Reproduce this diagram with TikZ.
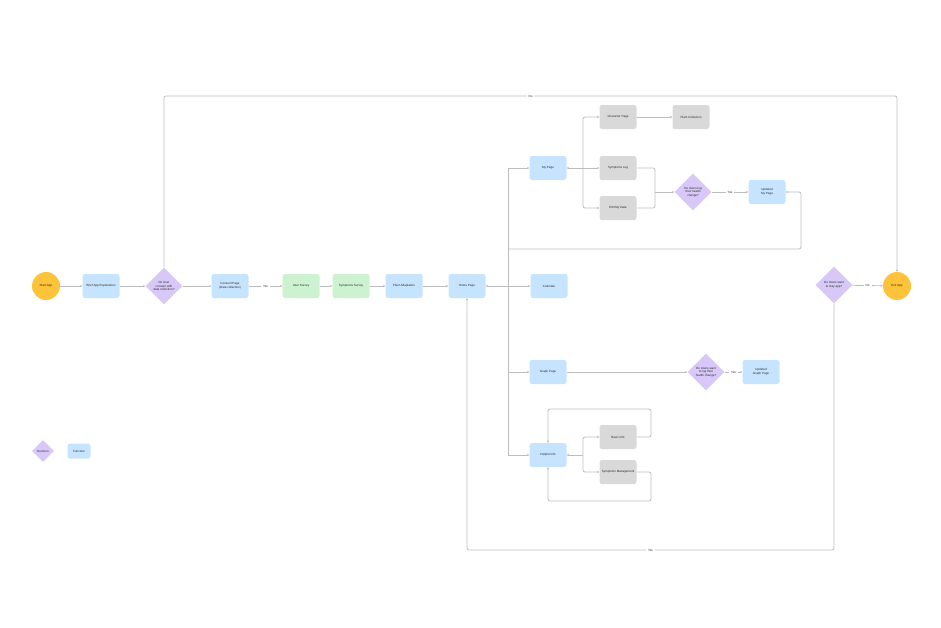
\documentclass[tikz,border=0pt]{standalone}
\usepackage{fontspec}
\setmainfont{Liberation Sans}
\usetikzlibrary{shapes.geometric,arrows.meta}
\definecolor{cyel}{HTML}{FDC33A}
\definecolor{cblue}{HTML}{C7E4FF}
\definecolor{cgreen}{HTML}{CCF2D0}
\definecolor{cgrey}{HTML}{D9D9D9}
\definecolor{cpurp}{HTML}{D8C8F8}
\definecolor{cline}{HTML}{BDBDBD}
\begin{document}
\begin{tikzpicture}[x=1pt,y=-1pt,
  base/.style={font=\fontsize{3}{3.6}\selectfont, align=center, inner sep=0pt, text=black!85},
  fn/.style={base, rectangle, rounded corners=2.5pt, fill=cblue, minimum width=37pt, minimum height=24pt},
  fng/.style={fn, fill=cgreen},
  fgr/.style={fn, fill=cgrey},
  circ/.style={base, circle, fill=cyel, minimum size=28pt},
  dec/.style={base, diamond, fill=cpurp, minimum width=37pt, minimum height=37pt, aspect=1},
  ar/.style={draw=cline, line width=0.8pt, -{Stealth[length=2.2pt,width=2.2pt]}},
  ln/.style={draw=cline, line width=0.8pt},
  rc/.style={rounded corners=2pt},
  lbl/.style={base, fill=white, inner xsep=2pt, inner ysep=1pt}]
\useasboundingbox (0,0) rectangle (941,627);

% main row
\node[circ] (start) at (46,286) {Start App};
\node[fn] (brief) at (101,286) {Brief App Explanation};
\node[dec] (d1) at (164,286) {Do User\\consent with\\data collection?};
\node[fn] (consent) at (230,286) {Consent Page\\(Data collection)};
\node[fng] (user) at (301,286) {User Survey};
\node[fng] (symp) at (351,286) {Symptoms Survey};
\node[fn] (plant) at (404,286) {Plant Adaptation};
\node[fn] (home) at (467,286) {Home Page};
\node[fn] (cal) at (549,286) {Calendar};

% my page branch
\node[fn] (my) at (548,168) {My Page};
\node[fgr] (char) at (618,117) {Character Page};
\node[fgr] (plantc) at (691,117) {Plant Collection};
\node[fgr] (slog) at (618,168) {Symptoms Log};
\node[fgr] (edit) at (618,208) {Edit My Data};
\node[dec] (d2) at (693,192) {Do Users log\\their health\\change?};
\node[fn] (umy) at (767,192) {Updated\\My Page};

% graph branch
\node[fn] (graph) at (548,372) {Graph Page};
\node[dec] (d3) at (706,372) {Do Users want\\to log their\\health change?};
\node[fn] (ugraph) at (761,372) {Updated\\Graph Page};

% helpful info branch
\node[fn] (help) at (548,455) {Helpful Info};
\node[fgr] (basic) at (618,437) {Basic Info};
\node[fgr] (smgmt) at (618,472) {Symptoms Management};

% exit
\node[dec] (d4) at (834,285) {Do Users want\\to stay app?};
\node[circ] (exit) at (897,286) {Exit App};

% legend
\node[dec, minimum width=22pt, minimum height=22pt] (ld) at (43,451) {Decision};
\node[fn, minimum width=23pt, minimum height=15pt] (lf) at (79,451) {Function};

% main row connectors
\draw[ar] (start) -- (brief);
\draw[ar] (brief) -- (d1);
\draw[ar] (d1) -- (consent);
\draw[ar] (consent) -- node[lbl]{Yes} (user);
\draw[ar] (user) -- (symp);
\draw[ar] (symp) -- (plant);
\draw[ar] (plant) -- (home);

% trunk from home page
\coordinate (t0) at (508,286);
\coordinate (tmy) at (508,168);
\coordinate (tgr) at (508,372);
\coordinate (thelp) at (508,455);
\coordinate (tret) at (508,249);
\coordinate (rcx) at (801,192);
\draw[ln] (tmy) -- (thelp);
\draw[ar] (t0) -- (home);
\draw[ar] (t0) -- (cal);
\draw[ar] (tmy) -- (my);
\draw[ar] (tgr) -- (graph);
\draw[ar] (thelp) -- (help);
\draw[ar,rc] (tret) -| (rcx) -- (umy.east);

% my page subtree
\coordinate (m0) at (583,168);
\draw[ar] (m0) -- (my.east);
\draw[ar,rc] (m0) |- (char.west);
\draw[ar,rc] (m0) |- (edit.west);
\draw[ar] (m0) -- (slog.west);
\draw[ar] (char) -- (plantc);
\coordinate (j2) at (655,192);
\draw[ln,rc] (slog.east) -| (j2);
\draw[ln,rc] (edit.east) -| (j2);
\draw[ar] (j2) -- (d2);
\draw[ar] (d2) -- node[lbl]{Yes} (umy);

% graph
\draw[ar] (graph) -- (d3);
\draw[ar] (d3) -- node[lbl]{Yes} (ugraph);

% helpful info subtree
\coordinate (h0) at (583,455);
\draw[ar] (h0) -- (help.east);
\draw[ar,rc] (h0) |- (basic.west);
\draw[ar,rc] (h0) |- (smgmt.west);
\coordinate (b1) at (651,409);
\coordinate (b2) at (548,409);
\draw[ar,rc] (basic.east) -| (b1) -- (b2) -- (help.north);
\coordinate (s1) at (651,501);
\coordinate (s2) at (548,501);
\draw[ar,rc] (smgmt.east) -| (s1) -- (s2) -- (help.south);

% exit connectors
\draw[ar] (d4) -- node[lbl]{No} (exit);
\coordinate (y1) at (834,550);
\coordinate (y2) at (467,550);
\draw[ar,rc] (d4.south) -- (y1) -- node[lbl]{Yes} (y2) -- (home.south);
\coordinate (n1) at (164,96);
\coordinate (n2) at (897,96);
\draw[ar,rc] (d1.north) -- (n1) -- node[lbl]{No} (n2) -- (exit.north);
\end{tikzpicture}
\end{document}
